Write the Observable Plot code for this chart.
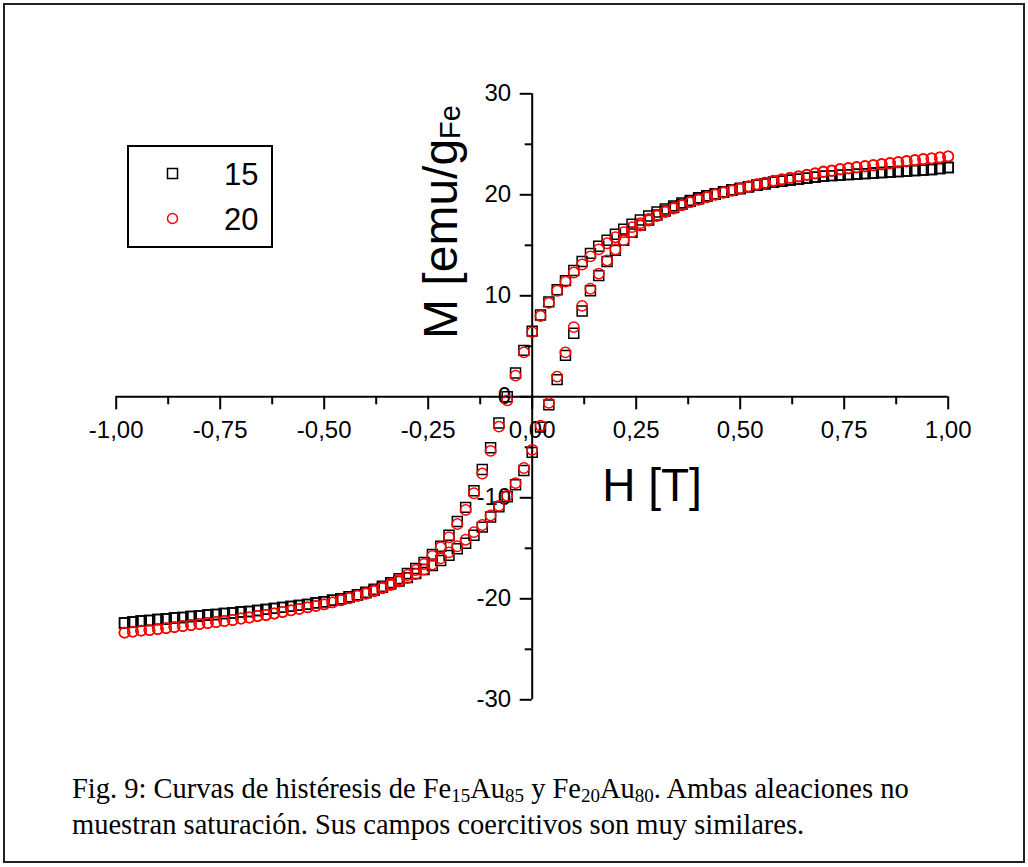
<!DOCTYPE html>
<html><head><meta charset="utf-8">
<script src="https://cdn.jsdelivr.net/npm/d3@7"></script>
<script src="https://cdn.jsdelivr.net/npm/@observablehq/plot@0.6"></script>
<style>
body{margin:0;background:#fff;}
#wrap{position:relative;width:1028px;height:867px;overflow:hidden;font-family:Arial,"Liberation Sans",sans-serif;color:#000;}
#frame{position:absolute;left:3px;top:3px;width:1018px;height:856px;border:2px solid #222;box-sizing:content-box;pointer-events:none;}
#chart{position:absolute;left:0;top:0;}
#legend{position:absolute;left:127px;top:145px;width:142px;height:99px;border:2px solid #000;background:#fff;}
#legend .row{position:absolute;left:0;width:142px;height:40px;}
#legend svg{position:absolute;left:34px;top:10px;}
#legend .lab{position:absolute;left:95px;top:5px;font-size:31px;line-height:31px;}
#xtitle{position:absolute;left:652px;top:485px;transform:translate(-50%,-50%);font-size:46px;line-height:1;white-space:nowrap;}
#ytitle{position:absolute;left:441px;top:222px;transform:translate(-50%,-50%) rotate(-90deg);font-size:48px;line-height:1;white-space:nowrap;}
#ytitle sub{font-size:29px;vertical-align:-0.12em;line-height:0;}
#caption{position:absolute;left:72px;top:771px;font-family:"Liberation Serif","Times New Roman",serif;font-size:28.5px;line-height:36px;white-space:nowrap;}
#caption sub{font-size:19px;vertical-align:-0.22em;line-height:0;}
</style>
</head><body>
<div id="wrap">
  <div id="chart"></div>
  <div id="legend">
    <div class="row" style="top:7px"><svg width="20" height="20"><rect x="4.5" y="4.5" width="10" height="10" fill="none" stroke="#000" stroke-width="1.5"/></svg><span class="lab">15</span></div>
    <div class="row" style="top:52px"><svg width="20" height="20"><circle cx="9.5" cy="9.5" r="5" fill="none" stroke="#f00" stroke-width="1.5"/></svg><span class="lab">20</span></div>
  </div>
  <div id="xtitle">H [T]</div>
  <div id="ytitle">M [emu/g<sub>Fe</sub></div>
  <div id="caption">Fig. 9: Curvas de histéresis de Fe<sub>15</sub>Au<sub>85</sub> y Fe<sub>20</sub>Au<sub>80</sub>. Ambas aleaciones no<br>muestran saturación. Sus campos coercitivos son muy similares.</div>
  <div id="frame"></div>
</div>
<script>
// Applied field H [T] (shared by both branches)
const fieldH = [-0.98,-0.96,-0.94,-0.92,-0.90,-0.88,-0.86,-0.84,-0.82,-0.80,
  -0.78,-0.76,-0.74,-0.72,-0.70,-0.68,-0.66,-0.64,-0.62,-0.60,
  -0.58,-0.56,-0.54,-0.52,-0.50,-0.48,-0.46,-0.44,-0.42,-0.40,
  -0.38,-0.36,-0.34,-0.32,-0.30,-0.28,-0.26,-0.24,-0.22,-0.20,
  -0.18,-0.16,-0.14,-0.12,-0.10,-0.08,-0.06,-0.04,-0.02,0.00,
  0.02,0.04,0.06,0.08,0.10,0.12,0.14,0.16,0.18,0.20,
  0.22,0.24,0.26,0.28,0.30,0.32,0.34,0.36,0.38,0.40,
  0.42,0.44,0.46,0.48,0.50,0.52,0.54,0.56,0.58,0.60,
  0.62,0.64,0.66,0.68,0.70,0.72,0.74,0.76,0.78,0.80,
  0.82,0.84,0.86,0.88,0.90,0.92,0.94,0.96,0.98,1.00];

// Fe15Au85 — descending-field branch (upper)
const m15Down = [-22.4,-22.3,-22.2,-22.15,-22.05,-22.0,-21.9,-21.85,-21.75,-21.7,
  -21.6,-21.55,-21.45,-21.4,-21.3,-21.25,-21.15,-21.05,-20.95,-20.85,
  -20.75,-20.65,-20.55,-20.4,-20.3,-20.15,-20.0,-19.8,-19.6,-19.35,
  -19.05,-18.75,-18.4,-18.0,-17.5,-17.0,-16.4,-15.6,-14.8,-13.7,
  -12.35,-10.95,-9.3,-7.2,-5.05,-2.6,0.0,2.35,4.6,6.5,
  8.1,9.4,10.6,11.5,12.5,13.4,14.2,14.9,15.5,16.1,
  16.6,17.1,17.5,17.9,18.3,18.6,18.9,19.2,19.45,19.7,
  19.9,20.1,20.3,20.5,20.65,20.8,20.95,21.1,21.25,21.35,
  21.45,21.55,21.65,21.75,21.85,21.9,21.95,22.0,22.05,22.1,
  22.15,22.2,22.25,22.3,22.35,22.4,22.45,22.5,22.6,22.7];
// Fe15Au85 — ascending-field branch (lower)
const m15Up = [-22.4,-22.3,-22.2,-22.15,-22.05,-22.0,-21.9,-21.85,-21.75,-21.7,
  -21.6,-21.55,-21.45,-21.4,-21.3,-21.25,-21.15,-21.05,-20.95,-20.85,
  -20.75,-20.65,-20.55,-20.4,-20.3,-20.15,-20.0,-19.8,-19.6,-19.4,
  -19.15,-18.85,-18.55,-18.25,-17.9,-17.5,-17.1,-16.7,-16.2,-15.7,
  -15.05,-14.5,-13.7,-12.9,-11.9,-10.9,-9.9,-8.7,-7.3,-5.5,
  -3.0,-0.8,1.7,4.1,6.3,8.5,10.5,12.0,13.4,14.5,
  15.5,16.3,17.0,17.5,18.0,18.4,18.75,19.05,19.35,19.6,
  19.85,20.05,20.25,20.45,20.6,20.8,20.95,21.1,21.25,21.35,
  21.45,21.55,21.65,21.75,21.85,21.9,21.95,22.0,22.05,22.1,
  22.15,22.2,22.25,22.3,22.35,22.4,22.45,22.5,22.6,22.7];
// Fe20Au80 — descending-field branch (upper)
const m20Down = [-23.35,-23.25,-23.15,-23.1,-23.0,-22.9,-22.8,-22.7,-22.6,-22.5,
  -22.4,-22.3,-22.2,-22.1,-21.95,-21.85,-21.7,-21.6,-21.45,-21.3,
  -21.15,-21.0,-20.85,-20.7,-20.55,-20.35,-20.15,-19.95,-19.7,-19.45,
  -19.15,-18.85,-18.5,-18.1,-17.65,-17.15,-16.55,-15.75,-14.9,-13.9,
  -12.6,-11.2,-9.55,-7.6,-5.35,-2.95,-0.35,2.1,4.4,6.4,
  8.0,9.3,10.5,11.4,12.3,13.1,13.9,14.6,15.2,15.8,
  16.3,16.8,17.2,17.6,18.0,18.35,18.7,19.0,19.3,19.55,
  19.8,20.05,20.25,20.45,20.65,20.85,21.05,21.2,21.4,21.55,
  21.7,21.85,22.0,22.15,22.3,22.4,22.55,22.65,22.75,22.85,
  22.95,23.05,23.15,23.25,23.35,23.45,23.55,23.6,23.7,23.8];
// Fe20Au80 — ascending-field branch (lower)
const m20Up = [-23.35,-23.25,-23.15,-23.1,-23.0,-22.9,-22.8,-22.7,-22.6,-22.5,
  -22.4,-22.3,-22.2,-22.1,-21.95,-21.85,-21.7,-21.6,-21.45,-21.3,
  -21.15,-21.0,-20.85,-20.7,-20.55,-20.35,-20.15,-19.95,-19.7,-19.5,
  -19.25,-18.95,-18.65,-18.3,-17.95,-17.55,-17.1,-16.6,-16.0,-15.4,
  -14.8,-14.15,-13.4,-12.7,-11.75,-10.8,-9.8,-8.55,-7.05,-5.25,
  -2.85,-0.6,2.0,4.4,6.9,9.0,10.7,12.2,13.5,14.6,
  15.5,16.3,16.95,17.45,17.9,18.3,18.65,18.95,19.25,19.5,
  19.75,20.0,20.2,20.4,20.6,20.8,21.0,21.2,21.35,21.5,
  21.65,21.8,21.95,22.1,22.25,22.35,22.5,22.6,22.7,22.8,
  22.9,23.0,23.1,23.2,23.3,23.4,23.5,23.6,23.7,23.8];

// Axis ticks and labels
const xMajorTicks = [-1, -0.75, -0.5, -0.25, 0, 0.25, 0.5, 0.75, 1];
const xMinorTicks = [-0.875, -0.625, -0.375, -0.125, 0.125, 0.375, 0.625, 0.875];
const xTickLabels = ["-1,00","-0,75","-0,50","-0,25","0,00","0,25","0,50","0,75","1,00"];
const yMajorTicks = [-30, -20, -10, 0, 10, 20, 30];
const yMinorTicks = [-25, -15, -5, 5, 15, 25];
const yTickLabels = ["-30","-20","-10","0","10","20","30"];

const pts = (ms) => ms.map((m, i) => ({h: fieldH[i], m}));
const d15 = [...pts(m15Down), ...pts(m15Up)];
const d20 = [...pts(m20Down), ...pts(m20Up)];

const chart = Plot.plot({
  width: 1028,
  height: 740,
  marginLeft: 115.7,
  marginRight: 80.3,
  marginTop: 93.3,
  marginBottom: 40.7,
  x: {domain: [-1, 1], axis: null},
  y: {domain: [-30, 30], axis: null},
  style: {background: "transparent", fontFamily: "Arial, 'Liberation Sans', sans-serif", overflow: "visible"},
  marks: [
    Plot.ruleY([0], {stroke: "#000", strokeWidth: 2}),
    Plot.ruleX([0], {stroke: "#000", strokeWidth: 2}),
    Plot.ruleX(xMajorTicks, {x: d => d, y1: () => 0, y2: () => 0, insetBottom: -13, stroke: "#000", strokeWidth: 2}),
    Plot.ruleX(xMinorTicks, {x: d => d, y1: () => 0, y2: () => 0, insetBottom: -8, stroke: "#000", strokeWidth: 2}),
    Plot.ruleY(yMajorTicks, {y: d => d, x1: () => 0, x2: () => 0, insetLeft: -12, stroke: "#000", strokeWidth: 2}),
    Plot.ruleY(yMinorTicks, {y: d => d, x1: () => 0, x2: () => 0, insetLeft: -7, stroke: "#000", strokeWidth: 2}),
    Plot.text(xMajorTicks, {x: d => d, y: () => 0, text: (d, i) => xTickLabels[i], dy: 34, fontSize: 24, fill: "#000"}),
    Plot.text(yMajorTicks, {x: () => 0, y: d => d, text: (d, i) => yTickLabels[i], dx: -21, textAnchor: "end", fontSize: 24, fill: "#000"}),
    Plot.dot(d15, {x: "h", y: "m", symbol: "square", r: 5.6, stroke: "#000", strokeWidth: 1.5, fill: "none"}),
    Plot.dot(d20, {x: "h", y: "m", symbol: "circle", r: 5.2, stroke: "#ff0000", strokeWidth: 1.5, fill: "none"})
  ]
});
document.getElementById("chart").appendChild(chart);
</script>
</body></html>
